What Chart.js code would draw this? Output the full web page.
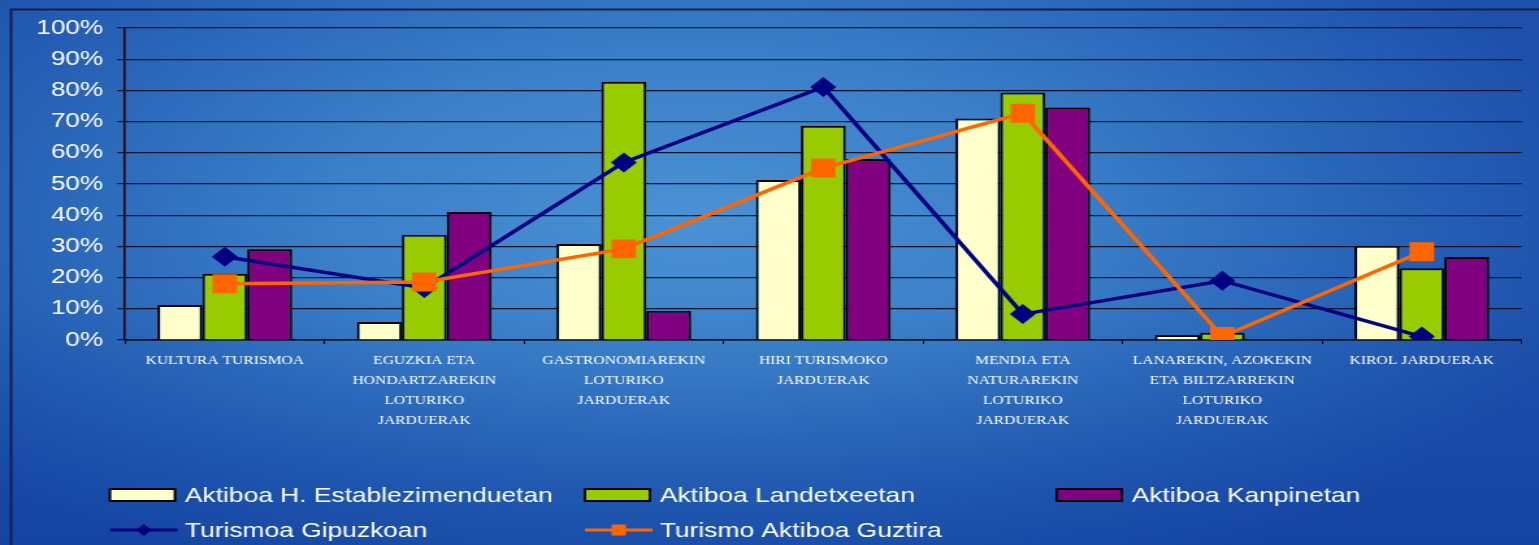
<!DOCTYPE html>
<html>
<head>
<meta charset="utf-8">
<script src="https://cdn.jsdelivr.net/npm/chart.js"></script>
<style>
  html, body {
    margin: 0;
    padding: 0;
    width: 1539px;
    height: 545px;
    overflow: hidden;
    background:
      linear-gradient(to bottom, rgba(10, 40, 140, 0) 55%, rgba(5, 50, 150, 0.35) 100%),
      radial-gradient(ellipse 60% 75% at 45% 40%, #4b91d3 0%, #3a7fc8 40%, #2762b6 75%, #1d4fab 100%);
  }
  /* the source picture is stretched sideways, so the chart is too */
  #wrap {
    position: absolute;
    left: 0;
    top: 0;
    width: 1184px;
    height: 545px;
    transform: scaleX(1.2998);
    transform-origin: 0 0;
  }
</style>
</head>
<body>
<div id="wrap"><canvas id="activeChart"></canvas></div>
<script>
var categories = [
    'KULTURA TURISMOA',
    ['EGUZKIA ETA', 'HONDARTZAREKIN', 'LOTURIKO', 'JARDUERAK'],
    ['GASTRONOMIAREKIN', 'LOTURIKO', 'JARDUERAK'],
    ['HIRI TURISMOKO', 'JARDUERAK'],
    ['MENDIA ETA', 'NATURAREKIN', 'LOTURIKO', 'JARDUERAK'],
    ['LANAREKIN, AZOKEKIN', 'ETA BILTZARREKIN', 'LOTURIKO', 'JARDUERAK'],
    'KIROL JARDUERAK'
];
var hotelValues = [11.2, 5.8, 30.8, 51.3, 71, 1.6, 30.2];
var ruralValues = [21.2, 33.7, 82.8, 68.7, 79.3, 2.3, 23];
var campingValues = [29.1, 41, 9.4, 58, 74.5, 0, 26.6];
var gipuzkoaValues = [26.7, 16.7, 56.9, 81.1, 8.3, 19, 1.1];
var totalValues = [18, 18.6, 29.2, 55.1, 72.7, 1.1, 28.3];
var yTicks = [0, 10, 20, 30, 40, 50, 60, 70, 80, 90, 100];

var frameLines = {
    id: 'frameLines',
    beforeDraw: function (chart) {
        var ctx = chart.ctx;
        ctx.save();
        ctx.strokeStyle = '#14204a';
        ctx.lineWidth = 2;
        ctx.beginPath();
        ctx.moveTo(8.5, 545);
        ctx.lineTo(8.5, 9.5);
        ctx.lineTo(chart.width, 9.5);
        ctx.stroke();
        ctx.restore();
    }
};

var gridLegend = {
    id: 'gridLegend',
    afterDraw: function (chart) {
        var ctx = chart.ctx;
        var cols = [84.6, 450, 813];
        var rows = [495, 530];
        ctx.save();
        chart.data.datasets.forEach(function (ds, i) {
            var x = cols[i % 3];
            var y = rows[Math.floor(i / 3)];
            if (ds.type === 'line') {
                ctx.strokeStyle = ds.borderColor;
                ctx.lineWidth = 3;
                ctx.beginPath();
                ctx.moveTo(x, y);
                ctx.lineTo(x + 52, y);
                ctx.stroke();
                ctx.fillStyle = ds.backgroundColor;
                var cx = x + 26;
                ctx.beginPath();
                if (ds.pointStyle === 'rectRot') {
                    ctx.moveTo(cx, y - 6);
                    ctx.lineTo(cx + 6, y);
                    ctx.lineTo(cx, y + 6);
                    ctx.lineTo(cx - 6, y);
                    ctx.closePath();
                } else {
                    ctx.rect(cx - 5.5, y - 5.5, 11, 11);
                }
                ctx.fill();
            } else {
                ctx.fillStyle = ds.backgroundColor;
                ctx.fillRect(x, y - 6, 50, 12);
                ctx.strokeStyle = '#000';
                ctx.lineWidth = 2;
                ctx.strokeRect(x, y - 6, 50, 12);
            }
            ctx.fillStyle = '#ffffff';
            ctx.font = '20.3px "Liberation Sans", Arial, sans-serif';
            ctx.textBaseline = 'middle';
            ctx.textAlign = 'left';
            ctx.fillText(ds.label, x + 57.7, y + 1);
        });
        ctx.restore();
    }
};

var ctx = document.getElementById('activeChart');
var myChart = new Chart(ctx, {
    type: 'bar',
    data: {
        labels: categories,
        datasets: [{
            label: 'Aktiboa H. Establezimenduetan',
            data: hotelValues,
            backgroundColor: '#ffffcc',
            borderColor: '#000000',
            borderWidth: 2,
            order: 2
        }, {
            label: 'Aktiboa Landetxeetan',
            data: ruralValues,
            backgroundColor: '#99cc00',
            borderColor: '#000000',
            borderWidth: 2,
            order: 2
        }, {
            label: 'Aktiboa Kanpinetan',
            data: campingValues,
            backgroundColor: '#800080',
            borderColor: '#000000',
            borderWidth: 2,
            order: 2
        }, {
            type: 'line',
            label: 'Turismoa Gipuzkoan',
            data: gipuzkoaValues,
            borderColor: '#000080',
            backgroundColor: '#000080',
            borderWidth: 3.5,
            tension: 0,
            pointStyle: 'rectRot',
            pointRadius: 10,
            pointBorderWidth: 0,
            order: 1
        }, {
            type: 'line',
            label: 'Turismo Aktiboa Guztira',
            data: totalValues,
            borderColor: '#ff6600',
            backgroundColor: '#ff6600',
            borderWidth: 3.5,
            tension: 0,
            pointStyle: 'rect',
            pointRadius: 13.4,
            pointBorderWidth: 0,
            order: 0
        }]
    },
    options: {
        responsive: true,
        maintainAspectRatio: false,
        animation: false,
        layout: {
            padding: { top: 28, left: 0, right: 9.4, bottom: 105 }
        },
        datasets: {
            bar: {
                categoryPercentage: 0.675,
                barPercentage: 1.0
            }
        },
        plugins: {
            legend: { display: false },
            tooltip: { enabled: false }
        },
        scales: {
            x: {
                offset: true,
                grid: {
                    offset: true,
                    drawOnChartArea: false,
                    color: '#000000',
                    tickLength: 4
                },
                border: { color: '#000000', width: 1.5 },
                ticks: {
                    color: '#ffffff',
                    padding: 7,
                    maxRotation: 0,
                    autoSkip: false,
                    font: { family: '"Liberation Serif", "Times New Roman", serif', size: 12, lineHeight: 20 / 12 }
                },
                afterFit: function (scale) {
                    scale.height = 100;
                }
            },
            y: {
                min: 0,
                max: 100,
                afterBuildTicks: function (scale) {
                    scale.ticks = yTicks.map(function (v) { return { value: v }; });
                },
                grid: {
                    color: '#0d1428',
                    lineWidth: 1.2,
                    tickLength: 6
                },
                border: { color: '#000000', width: 1.5 },
                ticks: {
                    color: '#ffffff',
                    padding: 11,
                    font: { family: '"Liberation Sans", Arial, sans-serif', size: 20 },
                    callback: function (value) {
                        return value + '%';
                    }
                },
                afterFit: function (scale) {
                    scale.width = 96.2;
                }
            }
        }
    },
    plugins: [frameLines, gridLegend]
});
</script>
</body>
</html>
